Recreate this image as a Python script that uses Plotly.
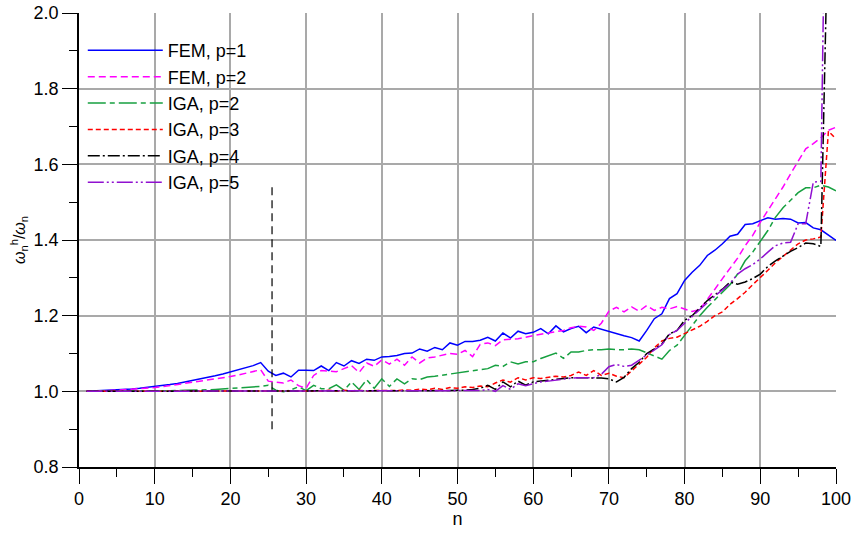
import plotly.graph_objects as go

# ---------------- data ----------------
n = list(range(1, 101))

fem_p1 = [1.000, 1.001, 1.001, 1.002, 1.003, 1.005, 1.006, 1.008, 1.010, 1.012,
          1.015, 1.018, 1.021, 1.025, 1.028, 1.032, 1.037, 1.041, 1.046, 1.051,
          1.056, 1.062, 1.068, 1.076, 1.053, 1.042, 1.048, 1.038, 1.056, 1.056,
          1.055, 1.067, 1.055, 1.076, 1.067, 1.081, 1.074, 1.085, 1.082, 1.091,
          1.092, 1.095, 1.100, 1.101, 1.112, 1.106, 1.116, 1.110, 1.128, 1.122,
          1.132, 1.132, 1.135, 1.143, 1.133, 1.154, 1.141, 1.159, 1.152, 1.156,
          1.166, 1.152, 1.173, 1.157, 1.166, 1.172, 1.155, 1.170, 1.164, 1.157,
          1.152, 1.147, 1.142, 1.133, 1.161, 1.192, 1.205, 1.245, 1.258, 1.293,
          1.315, 1.333, 1.359, 1.373, 1.390, 1.410, 1.415, 1.441, 1.443, 1.450,
          1.459, 1.455, 1.457, 1.455, 1.445, 1.446, 1.432, 1.427, 1.414, 1.399]

fem_p2 = [1.000, 1.000, 1.001, 1.002, 1.003, 1.004, 1.005, 1.007, 1.008, 1.010,
          1.012, 1.015, 1.017, 1.020, 1.023, 1.026, 1.029, 1.032, 1.036, 1.039,
          1.043, 1.047, 1.051, 1.057, 1.027, 1.024, 1.022, 1.030, 1.015, 1.008,
          1.042, 1.055, 1.054, 1.052, 1.060, 1.068, 1.050, 1.075, 1.066, 1.083,
          1.072, 1.085, 1.069, 1.091, 1.075, 1.088, 1.091, 1.095, 1.100, 1.098,
          1.108, 1.092, 1.124, 1.128, 1.121, 1.136, 1.138, 1.139, 1.143, 1.148,
          1.151, 1.154, 1.158, 1.161, 1.168, 1.172, 1.170, 1.161, 1.180, 1.212,
          1.222, 1.210, 1.223, 1.212, 1.227, 1.214, 1.222, 1.218, 1.224, 1.218,
          1.211, 1.216, 1.242, 1.270, 1.298, 1.325, 1.352, 1.385, 1.412, 1.447,
          1.478, 1.508, 1.540, 1.575, 1.610, 1.641, 1.655, 1.670, 1.690, 1.698]

iga_p2 = [1.000, 1.000, 1.000, 1.000, 1.000, 1.000, 1.000, 1.001, 1.001, 1.001,
          1.002, 1.002, 1.002, 1.003, 1.003, 1.004, 1.004, 1.005, 1.006, 1.007,
          1.008, 1.009, 1.011, 1.013, 1.016, 1.003, 0.999, 1.004, 1.012, 1.002,
          1.016, 1.007, 1.007, 1.017, 1.003, 1.025, 1.005, 1.031, 1.008, 1.033,
          1.013, 1.033, 1.020, 1.033, 1.031, 1.038, 1.040, 1.043, 1.045, 1.047,
          1.050, 1.054, 1.056, 1.060, 1.069, 1.066, 1.078, 1.072, 1.078, 1.078,
          1.087, 1.093, 1.101, 1.087, 1.104, 1.104, 1.108, 1.110, 1.110, 1.112,
          1.110, 1.110, 1.112, 1.110, 1.102, 1.092, 1.085, 1.108, 1.122, 1.148,
          1.175, 1.200, 1.222, 1.242, 1.262, 1.282, 1.310, 1.345, 1.368, 1.395,
          1.425, 1.460, 1.485, 1.505, 1.525, 1.538, 1.538, 1.545, 1.540, 1.530]

iga_p3 = [1.000, 1.000, 1.000, 1.000, 1.000, 1.000, 1.000, 1.000, 1.000, 1.000,
          1.000, 1.000, 1.000, 1.000, 1.000, 1.000, 1.000, 1.000, 1.000, 1.000,
          1.000, 1.000, 1.000, 1.001, 1.001, 1.000, 1.001, 1.000, 1.002, 1.000,
          1.001, 1.001, 1.003, 1.001, 1.003, 1.001, 1.003, 1.001, 1.002, 1.002,
          1.003, 1.002, 1.004, 1.003, 1.006, 1.004, 1.008, 1.005, 1.010, 1.008,
          1.012, 1.010, 1.014, 1.012, 1.022, 1.030, 1.024, 1.036, 1.030, 1.036,
          1.034, 1.038, 1.040, 1.038, 1.042, 1.051, 1.042, 1.055, 1.042, 1.048,
          1.040, 1.036, 1.055, 1.072, 1.090, 1.115, 1.133, 1.140, 1.143, 1.152,
          1.163, 1.172, 1.185, 1.200, 1.210, 1.230, 1.245, 1.262, 1.282, 1.300,
          1.320, 1.340, 1.357, 1.372, 1.390, 1.400, 1.403, 1.408, 1.688, 1.667]

iga_p4 = [1.000, 1.000, 1.000, 1.000, 1.000, 1.000, 1.000, 1.000, 1.000, 1.000,
          1.000, 1.000, 1.000, 1.000, 1.000, 1.000, 1.000, 1.000, 1.000, 1.000,
          1.000, 1.000, 1.000, 1.000, 1.000, 1.000, 1.000, 1.000, 1.000, 1.000,
          1.000, 1.000, 1.000, 1.000, 1.000, 1.000, 1.000, 1.000, 1.000, 1.000,
          1.000, 1.000, 1.000, 1.000, 1.000, 1.000, 1.001, 1.001, 1.002, 1.003,
          1.003, 1.005, 1.008, 1.016, 1.005, 1.025, 1.012, 1.027, 1.016, 1.025,
          1.027, 1.029, 1.031, 1.034, 1.036, 1.036, 1.036, 1.036, 1.035, 1.033,
          1.025, 1.037, 1.060, 1.077, 1.100, 1.112, 1.125, 1.152, 1.161, 1.188,
          1.200, 1.220, 1.240, 1.255, 1.270, 1.289, 1.283, 1.289, 1.298, 1.310,
          1.330, 1.345, 1.358, 1.370, 1.380, 1.392, 1.390, 1.383, 2.300, 2.600]

iga_p5 = [1.000, 1.000, 1.000, 1.000, 1.000, 1.000, 1.000, 1.000, 1.000, 1.000,
          1.000, 1.000, 1.000, 1.000, 1.000, 1.000, 1.000, 1.000, 1.000, 1.000,
          1.000, 1.000, 1.000, 1.000, 1.000, 1.000, 1.000, 1.000, 1.000, 1.000,
          1.000, 1.000, 1.000, 1.000, 1.000, 1.000, 1.000, 1.000, 1.000, 1.000,
          1.000, 1.000, 1.000, 1.000, 1.000, 1.000, 1.000, 1.000, 1.000, 1.000,
          1.000, 1.001, 1.002, 1.005, 1.000, 1.015, 1.005, 1.020, 1.015, 1.020,
          1.025, 1.027, 1.030, 1.033, 1.035, 1.036, 1.036, 1.036, 1.045, 1.065,
          1.071, 1.066, 1.069, 1.082, 1.095, 1.110, 1.123, 1.150, 1.161, 1.180,
          1.198, 1.215, 1.235, 1.252, 1.268, 1.285, 1.310, 1.324, 1.335, 1.350,
          1.368, 1.385, 1.392, 1.394, 1.443, 1.443, 1.553, 1.555, 2.940, 3.200]

series_names = ["FEM, p=1", "FEM, p=2", "IGA, p=2", "IGA, p=3", "IGA, p=4", "IGA, p=5"]

divider_n = 25.5
divider_y = [0.9, 1.55]

x_ticks = [0, 10, 20, 30, 40, 50, 60, 70, 80, 90, 100]
y_ticks = [0.8, 1.0, 1.2, 1.4, 1.6, 1.8, 2.0]

# ---------------- styles ----------------
styles = [
    dict(color="#0000ff", dash="solid"),
    dict(color="#ff00ff", dash="7px,4px"),
    dict(color="#17a040", dash="18px,4px,5px,4px"),
    dict(color="#ff0000", dash="5px,3px"),
    dict(color="#000000", dash="12px,3px,2px,3px"),
    dict(color="#9010d0", dash="16px,3px,2px,3px,2px,3px"),
]

FONT = "Liberation Sans, Arial, sans-serif"

fig = go.Figure()
all_series = [fem_p1, fem_p2, iga_p2, iga_p3, iga_p4, iga_p5]
for name, vals, st in zip(series_names, all_series, styles):
    fig.add_trace(go.Scatter(
        x=n, y=vals, mode="lines", name=name,
        line=dict(color=st["color"], dash=st["dash"], width=1.5),
    ))

fig.add_trace(go.Scatter(
    x=[divider_n, divider_n], y=divider_y, mode="lines", showlegend=False,
    line=dict(color="black", dash="8px,5px", width=1.2),
))

axis_common = dict(
    showline=True, linecolor="black", linewidth=1.5,
    ticks="outside", ticklen=15, tickwidth=1.2, tickcolor="black",
    showgrid=True, gridcolor="#a9a9a9", gridwidth=1.5,
    zeroline=False, mirror=False, automargin=False,
    tickfont=dict(family=FONT, size=18, color="black"),
)

fig.update_layout(
    width=853, height=534,
    margin=dict(l=79, r=17, t=13, b=67),
    paper_bgcolor="white", plot_bgcolor="white",
    font=dict(family=FONT, size=18, color="black"),
    xaxis=dict(
        range=[0, 100], tickmode="array", tickvals=x_ticks,
        minor=dict(dtick=5, tick0=0, ticks="outside", ticklen=8, tickcolor="black", tickwidth=1.2, showgrid=False),
        title=dict(text="n", font=dict(family=FONT, size=18), standoff=2),
        **axis_common,
    ),
    yaxis=dict(
        range=[0.8, 2.0], tickmode="array", tickvals=y_ticks, tickformat=".1f",
        minor=dict(dtick=0.1, tick0=0.8, ticks="outside", ticklen=8, tickcolor="black", tickwidth=1.2, showgrid=False),
        title=dict(text="<i>ω</i><sub>n</sub><sup>h</sup>/<i>ω</i><sub>n</sub>",
                   font=dict(family=FONT, size=16), standoff=4),
        **axis_common,
    ),
    legend=dict(
        x=0.005, y=0.958, xanchor="left", yanchor="top",
        bgcolor="rgba(0,0,0,0)", borderwidth=0,
        font=dict(family=FONT, size=18, color="black"),
        itemwidth=75, tracegroupgap=0,
    ),
    showlegend=True,
)

fig.write_html("out.html")
